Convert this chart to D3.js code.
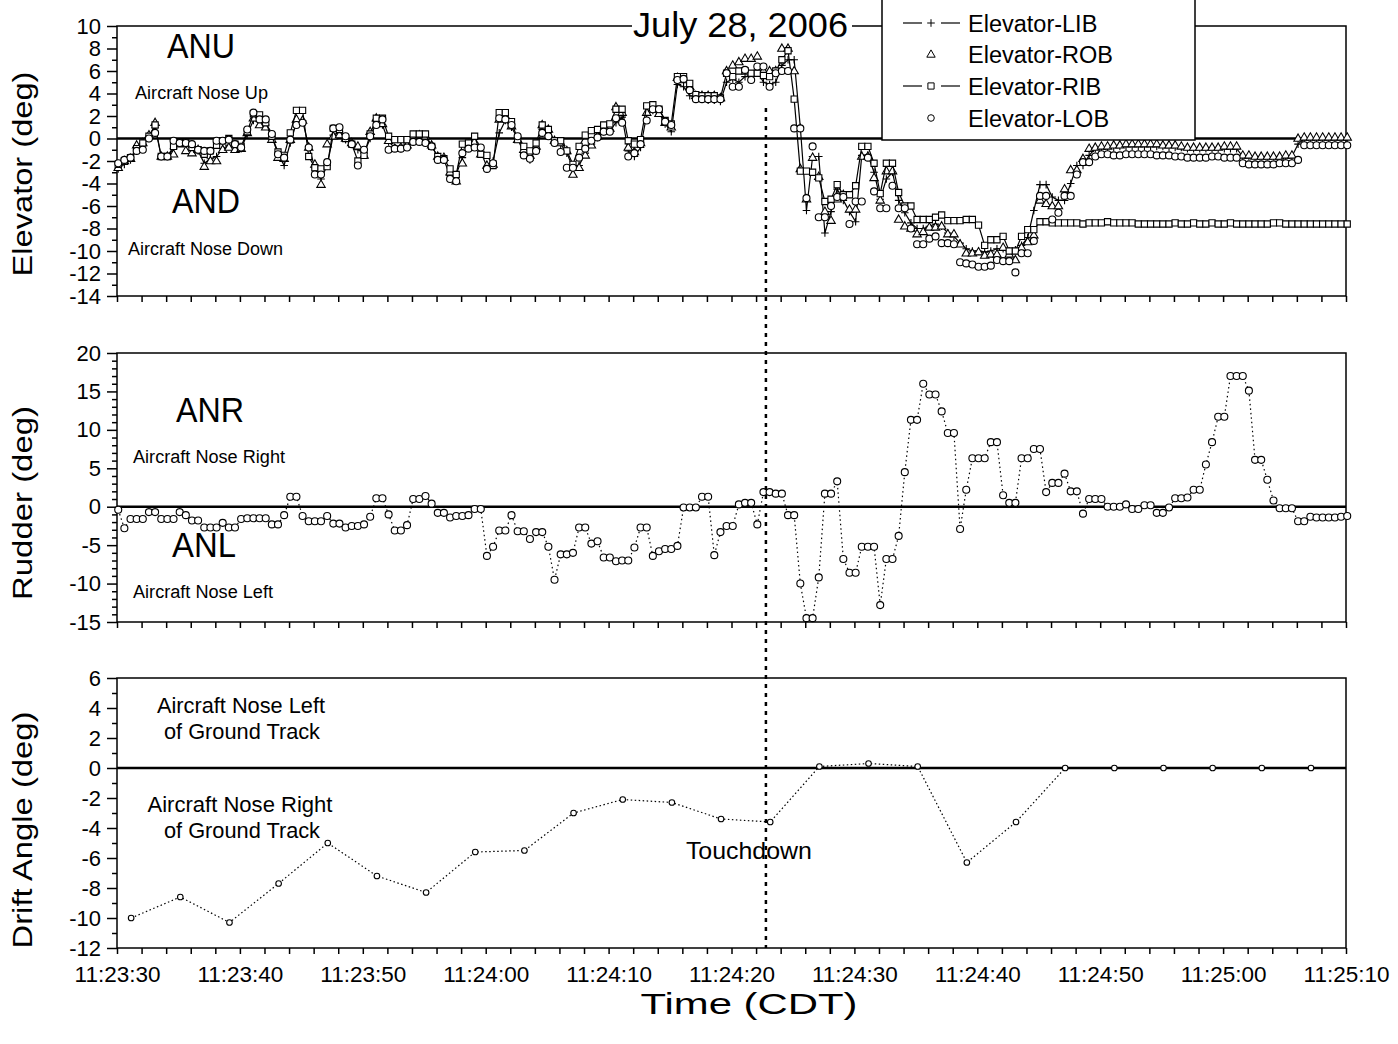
<!DOCTYPE html>
<html>
<head>
<meta charset="utf-8">
<script src="https://cdn.jsdelivr.net/npm/d3@7"></script>
<style>
  html, body { margin: 0; padding: 0; background: #fff; }
  svg { display: block; }
</style>
</head>
<body>
<svg id="chart" width="1398" height="1044"></svg>
<script>
// ---------------- data ----------------
const chartDate = "July 28, 2006";
const xTickLabels = ["11:23:30", "11:23:40", "11:23:50", "11:24:00", "11:24:10",
                     "11:24:20", "11:24:30", "11:24:40", "11:24:50", "11:25:00", "11:25:10"];
const elevTickLabels = [10, 8, 6, 4, 2, 0, -2, -4, -6, -8, -10, -12, -14];
const rudderTickLabels = [20, 15, 10, 5, 0, -5, -10, -15];
const driftTickLabels = [6, 4, 2, 0, -2, -4, -6, -8, -10, -12];
const touchdownTime = "11:24:22.800";

// surface samples: 2 per second, first sample 0.1 s after 11:23:30
const surfaceStartSec = 0.1;
const surfaceStepSec = 0.5;
// drift angle samples: every 4 s
const driftStartSec = 1.15;
const driftStepSec = 4;

const elevatorNames = ["Elevator-LIB", "Elevator-ROB", "Elevator-RIB", "Elevator-LOB"];

const elevatorLIB = [
  -2.7, -2.3, -1.9, -1.0, -0.6, 0.0, 1.0, -1.6, -1.6, -0.9,
  -0.4, -0.6, -1.0, -1.1, -2.2, -1.8, -1.6, -0.9, -0.6, -0.7,
  -0.9, 0.4, 1.6, 1.5, 1.2, 0.2, -1.4, -2.4, -0.4, 1.4,
  1.6, -0.7, -2.6, -3.6, -2.4, 0.3, 0.6, -0.1, -0.4, -1.0,
  -1.3, 0.0, 1.5, 1.2, -0.3, -0.8, -0.9, -0.5, 0.1, 0.2,
  0.1, -0.6, -1.7, -1.9, -3.3, -3.2, -1.7, -0.7, -0.4, -1.2,
  -2.5, -2.0, 0.5, 1.6, 1.0, 0.0, -1.3, -1.9, -0.9, 0.8,
  0.6, -0.3, -0.5, -1.3, -2.6, -2.4, -1.3, -0.5, 0.1, 0.6,
  0.7, 1.4, 1.9, -1.1, -1.6, -0.8, 2.1, 2.5, 2.3, 1.3,
  0.6, 4.8, 4.6, 3.8, 3.7, 3.5, 3.4, 3.4, 3.3, 5.0,
  5.3, 5.0, 5.5, 5.6, 6.0, 5.0, 4.8, 5.0, 6.5, 7.0,
  7.0, 1.0, -6.4, -1.6, -1.6, -8.4, -6.5, -4.5, -5.5, -6.5,
  -7.4, -1.5, -1.5, -3.0, -5.4, -3.6, -3.0, -5.5, -6.6, -7.5,
  -8.0, -8.0, -7.8, -7.6, -7.8, -8.4, -8.7, -9.3, -9.8, -10.0,
  -10.0, -10.1, -10.0, -9.8, -9.8, -10.0, -9.9, -9.5, -8.8, -6.4,
  -4.1, -4.1, -5.2, -5.5, -5.5, -4.0, -2.4, -2.4, -1.5, -0.9,
  -0.8, -0.8, -0.8, -0.7, -0.7, -0.7, -0.7, -0.7, -0.7, -0.7,
  -0.7, -0.8, -0.8, -0.8, -0.9, -0.9, -0.9, -0.9, -0.9, -0.9,
  -0.9, -0.9, -0.9, -1.6, -1.6, -1.6, -1.6, -1.6, -1.6, -1.6,
  -1.6, -1.6, -0.5, 0.0, 0.0, 0.0, 0.0, 0.0, 0.0, 0.0,
  0.0
];

const elevatorROB = [
  -2.6, -2.0, -1.8, -0.6, -0.4, 0.3, 1.4, -1.6, -1.6, -1.4,
  -0.5, -1.1, -1.3, -1.0, -2.5, -2.0, -2.0, -1.0, -0.8, -1.0,
  -0.9, 0.5, 1.8, 1.2, 1.0, -0.1, -1.7, -1.8, -0.1, 1.7,
  1.6, -0.8, -2.3, -4.1, -0.5, 0.2, 0.3, 0.0, -0.4, -0.7,
  -1.5, 0.6, 1.8, 1.3, -0.2, -0.9, -0.8, -0.6, 0.2, 0.3,
  0.2, -0.6, -1.6, -1.7, -3.0, -3.8, -2.2, -0.6, -0.3, -1.4,
  -2.4, -2.3, 1.7, 1.8, 1.1, -0.1, -1.0, -1.5, -0.7, 1.2,
  0.8, -0.2, -0.4, -1.1, -3.2, -2.6, -1.5, -0.6, 0.2, 0.7,
  0.9, 2.8, 2.3, -0.8, -1.2, -0.4, 2.3, 2.7, 2.2, 1.4,
  1.0, 5.4, 5.2, 4.6, 3.8, 3.8, 3.8, 3.8, 3.6, 6.0,
  6.5, 6.8, 7.1, 7.1, 7.3, 6.0, 6.0, 6.0, 8.0, 8.0,
  6.0, -2.7, -5.4, -1.7, -3.4, -6.5, -7.3, -5.4, -5.0, -6.3,
  -6.3, -1.6, -1.6, -3.5, -5.5, -2.9, -2.9, -7.2, -7.8, -8.0,
  -8.5, -8.3, -7.9, -7.9, -7.8, -8.5, -8.5, -9.4, -10.2, -10.2,
  -10.1, -10.4, -10.3, -10.3, -9.7, -10.3, -10.8, -9.7, -9.2, -8.6,
  -5.5, -5.8, -6.0, -6.0, -4.5, -2.8, -2.8, -1.8, -0.9, -0.8,
  -0.7, -0.7, -0.6, -0.6, -0.5, -0.5, -0.5, -0.5, -0.5, -0.5,
  -0.6, -0.6, -0.6, -0.7, -0.8, -0.8, -0.8, -0.8, -0.8, -0.8,
  -0.7, -0.7, -0.7, -1.5, -1.5, -1.6, -1.6, -1.6, -1.6, -1.6,
  -1.5, -1.5, 0.0, 0.1, 0.1, 0.1, 0.1, 0.1, 0.1, 0.1,
  0.1
];

const elevatorRIB = [
  -2.3, -2.0, -1.7, -0.9, -0.4, 0.2, 1.2, -1.6, -1.6, -0.7,
  -0.4, -0.4, -0.8, -1.0, -1.4, -1.1, -0.6, -0.2, 0.0, -0.5,
  -0.7, 0.6, 2.2, 2.1, 1.4, 0.2, -1.2, -1.5, 0.5, 2.5,
  2.5, -1.6, -2.6, -2.7, -2.5, 0.9, 0.8, 0.0, -0.5, -2.0,
  -1.5, 0.4, 1.8, 1.8, 0.2, -0.1, -0.1, -0.1, 0.4, 0.4,
  0.4, -0.7, -1.6, -1.8, -2.7, -3.2, -0.5, -0.4, 0.2, -1.4,
  -1.5, -2.4, 2.3, 2.3, 1.5, -0.1, -0.7, -1.1, -0.4, 1.2,
  0.8, -0.2, -0.2, -1.1, -2.3, -0.7, 0.3, 0.7, 0.8, 1.2,
  1.3, 2.6, 2.6, -0.2, -0.5, -0.1, 2.9, 3.0, 2.6, 1.6,
  1.3, 5.5, 5.5, 4.9, 3.9, 3.8, 3.8, 3.8, 3.6, 5.8,
  5.5, 6.0, 6.0, 5.8, 5.8, 5.6, 5.5, 6.0, 7.0, 7.8,
  3.5, -2.9, -2.9, -3.0, -3.5, -5.6, -5.4, -4.1, -5.0, -5.0,
  -4.2, -0.7, -0.7, -2.2, -4.9, -2.2, -2.2, -4.8, -6.0, -6.0,
  -7.2, -7.2, -7.2, -7.0, -6.8, -7.3, -7.3, -7.3, -7.2, -7.2,
  -7.7, -9.5, -9.0, -9.0, -8.7, -10.0, -10.0, -8.7, -8.1, -8.1,
  -7.4, -7.4, -7.5, -7.5, -7.5, -7.5, -7.5, -7.6, -7.5, -7.5,
  -7.5, -7.4, -7.5, -7.5, -7.5, -7.5, -7.6, -7.6, -7.6, -7.6,
  -7.6, -7.6, -7.5, -7.6, -7.6, -7.5, -7.6, -7.6, -7.5, -7.6,
  -7.6, -7.5, -7.6, -7.6, -7.6, -7.6, -7.6, -7.6, -7.5, -7.5,
  -7.6, -7.6, -7.6, -7.6, -7.6, -7.6, -7.6, -7.6, -7.6, -7.6,
  -7.6
];

const elevatorLOB = [
  -2.2, -1.9, -1.7, -1.1, -1.0, 0.0, 0.5, -1.6, -1.6, -0.2,
  -0.4, -0.4, -0.5, -1.0, -1.1, -1.1, -0.2, -0.2, -0.1, -0.5,
  -0.8, 0.8, 2.3, 1.7, 1.7, 0.4, -1.4, -1.7, -0.1, 1.2,
  1.4, -0.8, -3.2, -3.2, -2.1, 0.9, 1.0, 0.2, -0.5, -2.4,
  -1.0, 0.2, 1.2, 1.7, -1.0, -0.9, -0.9, -0.8, -0.3, -0.3,
  -0.4, -0.7, -1.9, -1.9, -3.6, -3.8, -1.3, -0.9, -0.8, -0.8,
  -2.7, -2.2, 1.8, 1.7, 1.2, 0.2, -1.5, -1.8, -1.1, 0.5,
  0.2, -0.4, -1.2, -2.6, -2.6, -1.7, -0.9, -0.2, 0.1, 0.6,
  0.6, 1.8, 1.4, -1.6, -1.3, -0.5, 1.6, 2.6, 2.6, 1.5,
  1.2, 5.2, 5.3, 4.3, 3.5, 3.5, 3.5, 3.5, 3.5, 5.8,
  4.6, 4.6, 6.1, 5.2, 6.4, 6.4, 4.6, 5.8, 6.0, 6.0,
  0.9, 0.9, -5.3, -0.7, -7.0, -7.0, -6.0, -5.2, -5.2, -7.6,
  -5.6, -5.6, -1.7, -4.7, -6.2, -6.2, -4.2, -6.2, -6.2, -8.0,
  -9.4, -9.4, -8.9, -8.7, -9.3, -9.3, -9.4, -11.0, -11.1, -11.2,
  -11.4, -11.4, -11.3, -10.8, -10.9, -10.9, -11.9, -10.2, -10.2, -9.1,
  -5.1, -5.1, -7.2, -6.6, -5.1, -5.1, -3.2, -2.1, -2.1, -1.6,
  -1.4, -1.4, -1.5, -1.5, -1.4, -1.4, -1.4, -1.4, -1.4, -1.5,
  -1.5, -1.5, -1.6, -1.6, -1.7, -1.7, -1.7, -1.7, -1.6, -1.6,
  -1.7, -1.7, -1.7, -2.2, -2.3, -2.3, -2.3, -2.3, -2.3, -2.2,
  -2.2, -2.2, -1.9, -0.6, -0.6, -0.6, -0.6, -0.6, -0.6, -0.6,
  -0.6
];

const rudderDeg = [
  -0.4, -2.8, -1.6, -1.6, -1.6, -0.7, -0.7, -1.6, -1.6, -1.6,
  -0.7, -1.1, -1.8, -1.8, -2.7, -2.7, -2.7, -2.1, -2.7, -2.7,
  -1.6, -1.5, -1.5, -1.5, -1.5, -2.3, -2.3, -1.1, 1.3, 1.3,
  -1.2, -1.9, -1.9, -1.9, -1.2, -2.2, -2.2, -2.7, -2.5, -2.5,
  -2.3, -1.3, 1.1, 1.1, -1.0, -3.1, -3.1, -2.4, 1.0, 1.0,
  1.4, 0.4, -0.8, -0.8, -1.4, -1.2, -1.2, -1.1, -0.3, -0.3,
  -6.4, -5.2, -3.1, -3.1, -1.1, -3.2, -3.2, -4.2, -3.3, -3.3,
  -5.2, -9.5, -6.2, -6.2, -6.0, -2.7, -2.7, -4.8, -4.5, -6.6,
  -6.6, -7.1, -7.0, -7.0, -5.3, -2.7, -2.7, -6.4, -5.8, -5.5,
  -5.5, -5.1, -0.1, -0.1, -0.1, 1.3, 1.3, -6.3, -3.3, -2.5,
  -2.5, 0.3, 0.5, 0.5, -2.3, 1.9, 1.9, 1.7, 1.7, -1.1,
  -1.1, -10.0, -14.5, -14.5, -9.2, 1.7, 1.7, 3.3, -6.8, -8.6,
  -8.6, -5.2, -5.2, -5.2, -12.8, -6.8, -6.8, -3.8, 4.5, 11.3,
  11.3, 16.0, 14.6, 14.6, 12.4, 9.6, 9.6, -2.9, 2.2, 6.3,
  6.3, 6.3, 8.4, 8.4, 1.5, 0.5, 0.5, 6.3, 6.3, 7.5,
  7.5, 1.9, 3.1, 3.1, 4.3, 2.0, 2.0, -0.9, 1.0, 1.0,
  1.0, 0.0, 0.0, 0.0, 0.3, -0.3, -0.3, 0.2, 0.2, -0.8,
  -0.8, -0.1, 1.1, 1.1, 1.2, 2.2, 2.2, 5.5, 8.4, 11.7,
  11.7, 17.0, 17.0, 17.0, 15.1, 6.1, 6.1, 3.5, 0.8, -0.2,
  -0.2, -0.2, -1.9, -1.9, -1.3, -1.4, -1.4, -1.4, -1.4, -1.3,
  -1.2
];

const driftAngleDeg = [
  -10.0, -8.6, -10.3, -7.7, -5.0, -7.2, -8.3, -5.6, -5.5, -3.0,
  -2.1, -2.3, -3.4, -3.6, 0.1, 0.3, 0.1, -6.3, -3.6, 0.0,
  0.0, 0.0, 0.0, 0.0, 0.0
];

// ---------------- layout ----------------
const FONT = '"Liberation Sans", Arial, Helvetica, sans-serif';
const plotLeft = 117, plotRight = 1346;
const panels = {
  elev:   { top: 26,  bottom: 296, domain: [-14, 10] },
  rudder: { top: 353, bottom: 622, domain: [-15, 20] },
  drift:  { top: 678, bottom: 948, domain: [-12, 6] }
};

const svg = d3.select("#chart");
svg.append("rect").attr("width", 1398).attr("height", 1044).attr("fill", "#fff");

const parseT = d3.timeParse("%H:%M:%S");
const parseTms = d3.timeParse("%H:%M:%S.%L");
const tStart = parseT(xTickLabels[0]);
const tEnd = parseT(xTickLabels[xTickLabels.length - 1]);
const x = d3.scaleTime().domain([tStart, tEnd]).range([plotLeft, plotRight]);

const yScale = p => d3.scaleLinear().domain(p.domain).range([p.bottom, p.top]);
const yElev = yScale(panels.elev);
const yRud = yScale(panels.rudder);
const yDrift = yScale(panels.drift);

const timed = (values, startSec, stepSec) =>
  values.map((v, i) => ({ t: new Date(tStart.getTime() + (startSec + stepSec * i) * 1000), v }));

// ---------------- axes ----------------
function drawXAxis(p, withLabels) {
  const ticks = d3.timeSecond.every(2).range(tStart, new Date(tEnd.getTime() + 1));
  const fmt = d3.timeFormat("%H:%M:%S");
  const labelSet = new Set(xTickLabels);
  const ax = d3.axisBottom(x).tickValues(ticks).tickSizeInner(6).tickSizeOuter(0).tickPadding(12)
    .tickFormat(d => (withLabels && labelSet.has(fmt(d))) ? fmt(d) : "");
  const g = svg.append("g").attr("transform", `translate(0,${p.bottom})`).call(ax);
  g.select(".domain").remove();
  g.selectAll(".tick line").attr("stroke", "#000").attr("stroke-width", 1.5);
  g.selectAll(".tick text").attr("font-family", FONT).attr("font-size", 22.5).attr("fill", "#000");
}

function drawYAxis(p, y, labels) {
  const ticks = d3.range(p.domain[0], p.domain[1] + 1, 1);
  const labelSet = new Set(labels);
  const ax = d3.axisLeft(y).tickValues(ticks).tickSizeInner(5).tickSizeOuter(0).tickPadding(11)
    .tickFormat(d => labelSet.has(d) ? String(d) : "");
  const g = svg.append("g").attr("transform", `translate(${plotLeft},0)`).call(ax);
  g.select(".domain").remove();
  g.selectAll(".tick line").attr("stroke", "#000").attr("stroke-width", 1.5)
    .attr("x2", d => labelSet.has(d) ? -10 : -5);
  g.selectAll(".tick text").attr("font-family", FONT).attr("font-size", 22).attr("fill", "#000");
}

function drawFrame(p, y) {
  svg.append("rect")
    .attr("x", plotLeft).attr("y", p.top)
    .attr("width", plotRight - plotLeft).attr("height", p.bottom - p.top)
    .attr("fill", "none").attr("stroke", "#000").attr("stroke-width", 1.5);
  svg.append("line")
    .attr("x1", plotLeft).attr("x2", plotRight)
    .attr("y1", y(0)).attr("y2", y(0))
    .attr("stroke", "#000").attr("stroke-width", 2.5);
}

drawFrame(panels.elev, yElev);
drawFrame(panels.rudder, yRud);
drawFrame(panels.drift, yDrift);
drawXAxis(panels.elev, false);
drawXAxis(panels.rudder, false);
drawXAxis(panels.drift, true);
drawYAxis(panels.elev, yElev, elevTickLabels);
drawYAxis(panels.rudder, yRud, rudderTickLabels);
drawYAxis(panels.drift, yDrift, driftTickLabels);

// ---------------- markers ----------------
const markerPaths = {
  plus: "M-3.8,0H3.8M0,-3.8V3.8",
  triangle: "M0,-4.6L4.2,2.7L-4.2,2.7Z",
  square: "M-3.1,-3.1h6.2v6.2h-6.2Z"
};
function drawMarkers(g, pts, type, y, r) {
  if (type === "circle") {
    g.selectAll(null).data(pts).join("circle")
      .attr("cx", d => x(d.t)).attr("cy", d => y(d.v)).attr("r", r)
      .attr("fill", "#fff").attr("stroke", "#000").attr("stroke-width", 1.1);
  } else {
    g.selectAll(null).data(pts).join("path")
      .attr("transform", d => `translate(${x(d.t)},${y(d.v)})`)
      .attr("d", markerPaths[type])
      .attr("fill", type === "plus" ? "none" : "#fff")
      .attr("stroke", "#000").attr("stroke-width", 1.1);
  }
}

// ---------------- elevator panel ----------------
const elevSeries = [
  { name: elevatorNames[0], values: elevatorLIB, marker: "plus", line: true },
  { name: elevatorNames[1], values: elevatorROB, marker: "triangle", line: false },
  { name: elevatorNames[2], values: elevatorRIB, marker: "square", line: true },
  { name: elevatorNames[3], values: elevatorLOB, marker: "circle", line: false }
];
const elevLine = d3.line().x(d => x(d.t)).y(d => yElev(d.v));
const gElev = svg.append("g");
elevSeries.forEach(s => {
  const pts = timed(s.values, surfaceStartSec, surfaceStepSec);
  if (s.line) {
    gElev.append("path").datum(pts).attr("d", elevLine)
      .attr("fill", "none").attr("stroke", "#000").attr("stroke-width", 1.2);
  }
  drawMarkers(gElev.append("g"), pts, s.marker, yElev, 3.5);
});

// ---------------- rudder panel ----------------
const rudPts = timed(rudderDeg, surfaceStartSec, surfaceStepSec);
svg.append("path").datum(rudPts)
  .attr("d", d3.line().x(d => x(d.t)).y(d => yRud(d.v)))
  .attr("fill", "none").attr("stroke", "#000").attr("stroke-width", 1.2)
  .attr("stroke-dasharray", "1.5,3");
drawMarkers(svg.append("g"), rudPts, "circle", yRud, 3.5);

// ---------------- drift angle panel ----------------
const driftPts = timed(driftAngleDeg, driftStartSec, driftStepSec);
svg.append("path").datum(driftPts)
  .attr("d", d3.line().x(d => x(d.t)).y(d => yDrift(d.v)))
  .attr("fill", "none").attr("stroke", "#000").attr("stroke-width", 1.2)
  .attr("stroke-dasharray", "1.5,2.5");
drawMarkers(svg.append("g"), driftPts, "circle", yDrift, 2.8);

// ---------------- touchdown marker ----------------
const tTouch = parseTms(touchdownTime);
svg.append("line")
  .attr("x1", x(tTouch)).attr("x2", x(tTouch))
  .attr("y1", 108).attr("y2", panels.drift.bottom)
  .attr("stroke", "#000").attr("stroke-width", 2.5).attr("stroke-dasharray", "4,5");

// ---------------- text ----------------
function label(txt, px, py, size, len, anchor, rotate) {
  const t = svg.append("text")
    .attr("font-family", FONT).attr("font-size", size).attr("fill", "#000")
    .attr("text-anchor", anchor || "start")
    .text(txt);
  if (rotate) {
    t.attr("transform", `translate(${px},${py}) rotate(-90)`);
  } else {
    t.attr("x", px).attr("y", py);
  }
  if (len) t.attr("textLength", len).attr("lengthAdjust", "spacingAndGlyphs");
  return t;
}

// date title, drawn over the top frame edge
svg.append("rect").attr("x", 632).attr("y", 6).attr("width", 220).attr("height", 34).attr("fill", "#fff");
label(chartDate, 633, 37, 35, 215);

label("ANU", 167, 58, 35, 68);
label("Aircraft Nose Up", 135, 99, 18, 133);
label("AND", 172, 213, 35, 68);
label("Aircraft Nose Down", 128, 255, 18, 155);
label("ANR", 176, 422, 35, 68);
label("Aircraft Nose Right", 133, 463, 18, 152);
label("ANL", 172, 557, 35, 64);
label("Aircraft Nose Left", 133, 598, 18, 140);

label("Aircraft Nose Left", 241, 713, 21.6, 168, "middle");
label("of Ground Track", 242, 739, 21.6, 156, "middle");
label("Aircraft Nose Right", 240, 812, 21.6, 185, "middle");
label("of Ground Track", 242, 838, 21.6, 156, "middle");
label("Touchdown", x(tTouch) - 17, 859, 24, 126, "middle");

label("Elevator (deg)", 32, 174, 27, 205, "middle", true);
label("Rudder (deg)", 32, 503, 27, 194, "middle", true);
label("Drift Angle (deg)", 32, 830, 27, 237, "middle", true);
label("Time (CDT)", 749, 1014, 30, 217, "middle");

// ---------------- legend ----------------
const lg = svg.append("g");
lg.append("rect").attr("x", 882).attr("y", -1).attr("width", 313).attr("height", 141)
  .attr("fill", "#fff").attr("stroke", "#000").attr("stroke-width", 1.5);
const legendRowY = [23, 54.5, 86, 118];
elevSeries.forEach((s, i) => {
  const cy = legendRowY[i];
  if (s.line) {
    lg.append("line").attr("x1", 903).attr("x2", 922).attr("y1", cy).attr("y2", cy)
      .attr("stroke", "#000").attr("stroke-width", 1.2);
    lg.append("line").attr("x1", 941).attr("x2", 960).attr("y1", cy).attr("y2", cy)
      .attr("stroke", "#000").attr("stroke-width", 1.2);
  }
  const mk = lg.append("g").attr("transform", `translate(931,${cy})`);
  if (s.marker === "circle") {
    mk.append("circle").attr("r", 3.3).attr("fill", "#fff").attr("stroke", "#000");
  } else {
    mk.append("path").attr("d", markerPaths[s.marker])
      .attr("fill", s.marker === "plus" ? "none" : "#fff").attr("stroke", "#000");
  }
  lg.append("text").attr("x", 968).attr("y", cy + 8.5)
    .attr("font-family", FONT).attr("font-size", 23.5).attr("fill", "#000")
    .text(s.name);
});
</script>
</body>
</html>
